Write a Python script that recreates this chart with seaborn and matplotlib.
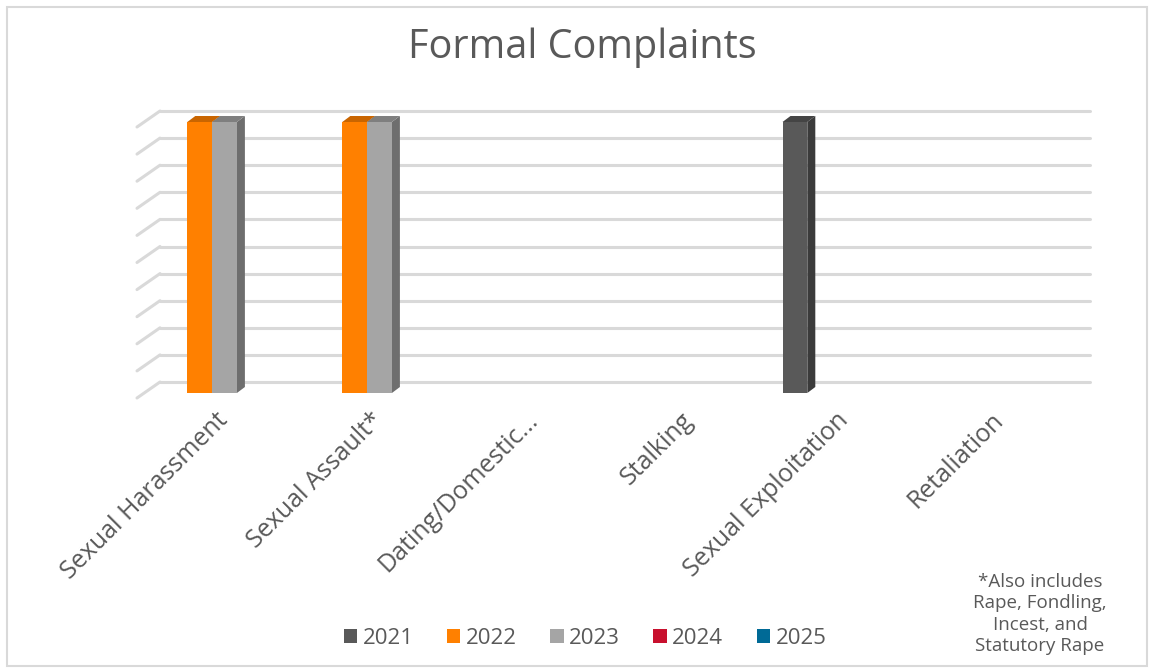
import numpy as np
import pandas as pd
import matplotlib
matplotlib.use("Agg")
import matplotlib.pyplot as plt
from matplotlib.patches import Polygon, Rectangle
from matplotlib.transforms import offset_copy
import seaborn as sns

sns.set_theme(style="white")
plt.rcParams['font.family'] = ['Open Sans', 'DejaVu Sans']

# data
categories = ["Sexual Harassment", "Sexual Assault*", "Dating/Domestic...",
              "Stalking", "Sexual Exploitation", "Retaliation"]
years = ["2021", "2022", "2023", "2024", "2025"]
v2021 = [0, 0, 0, 0, 1, 0]
v2022 = [1, 1, 0, 0, 0, 0]
v2023 = [1, 1, 0, 0, 0, 0]
v2024 = [0, 0, 0, 0, 0, 0]
v2025 = [0, 0, 0, 0, 0, 0]
gridvals = np.arange(0, 1.01, 0.1)

colors = ["#595959", "#FF8000", "#A5A5A5", "#C8102E", "#006A96"]
side_cols = ["#3b3b3b", "#b35a00", "#6e6e6e", "#8c0b20", "#004a69"]
top_cols = ["#444444", "#c96500", "#7f7f7f", "#a00d25", "#00557a"]

df = pd.DataFrame({
    "category": categories * 5,
    "year": sum([[y] * 6 for y in years], []),
    "value": v2021 + v2022 + v2023 + v2024 + v2025,
})

text_col = "#595959"
grid_col = "#d9d9d9"

fig = plt.figure(figsize=(11.54, 6.72), dpi=100)
W, H = 1154, 672
ax = fig.add_axes([147 / W, 1 - 393 / H, (1077 - 147) / W, (393 - 122) / H])

sns.barplot(data=df, x="category", y="value", hue="year", palette=colors,
            saturation=1, width=0.8, ax=ax, legend=False, zorder=3,
            linewidth=0, errorbar=None)

ax.set_xlim(-0.5, 5.5)
ax.set_ylim(0, 1)
ax.set_xlabel("")
ax.set_ylabel("")
ax.set_yticks([])
for s in ax.spines.values():
    s.set_visible(False)
ax.patch.set_alpha(0)

# back wall gridlines + left wall diagonals
wall = offset_copy(ax.transData, fig, x=13, y=11, units="dots")
front = offset_copy(ax.transData, fig, x=-10, y=-5, units="dots")
for v in gridvals:
    ax.plot([-0.5, 5.5], [v, v], color=grid_col, lw=2.2, transform=wall,
            clip_on=False, zorder=1, solid_capstyle="round")
    p0 = wall.transform((-0.5, v))
    p1 = front.transform((-0.5, v))
    ax.add_line(plt.Line2D([p0[0], p1[0]], [p0[1], p1[1]], color=grid_col,
                           lw=2.2, transform=None, zorder=1, clip_on=False,
                           solid_capstyle="round"))

# depth faces of bars
fig.canvas.draw()
dx, dy = 8, 6
bars = sorted([p for p in ax.patches if p.get_height() > 0],
              key=lambda p: p.get_x())
for p in bars:
    fc = matplotlib.colors.to_hex(p.get_facecolor())
    idx = [c.lower() for c in colors].index(fc.lower())
    x0, x1 = p.get_x(), p.get_x() + p.get_width()
    h = p.get_height()
    (a0, b0) = ax.transData.transform((x0, 0))
    (a1, b1) = ax.transData.transform((x1, h))
    side = Polygon([(a1, b0), (a1, b1), (a1 + dx, b1 + dy), (a1 + dx, b0 + dy)],
                   closed=True, facecolor=side_cols[idx], edgecolor="none",
                   transform=None, zorder=2, clip_on=False)
    top = Polygon([(a0, b1), (a1, b1), (a1 + dx, b1 + dy), (a0 + dx, b1 + dy)],
                  closed=True, facecolor=top_cols[idx], edgecolor="none",
                  transform=None, zorder=2, clip_on=False)
    ax.add_patch(side)
    ax.add_patch(top)

ax.tick_params(axis="x", length=0, pad=17, labelsize=18, labelcolor=text_col)
for lab in ax.get_xticklabels():
    lab.set_rotation(45)
    lab.set_ha("right")
    lab.set_va("center")
    lab.set_rotation_mode("anchor")

fig.text(582 / W, 1 - 48 / H, "Formal Complaints", ha="center", va="center",
         fontsize=28.5, color=text_col)

handles = [Rectangle((0, 0), 1, 1, facecolor=c, edgecolor="none") for c in colors]
fig.legend(handles, years, loc="center", bbox_to_anchor=(585 / W, 1 - 638 / H),
           ncol=5, frameon=False, fontsize=16, labelcolor=text_col,
           handlelength=0.6, handleheight=0.6, handletextpad=0.25,
           columnspacing=1.5)

fig.text(1040 / W, 1 - 614 / H,
         "*Also includes\nRape, Fondling,\nIncest, and\nStatutory Rape",
         ha="center", va="center", fontsize=13.5, color=text_col,
         linespacing=1.25)

fig.patches.append(Rectangle((6.5 / W, 6.5 / H), (1147 - 6.5) / W,
                             (665.5 - 6.5) / H, transform=fig.transFigure,
                             facecolor="none", edgecolor=grid_col, lw=1.5))

fig.savefig("out.png", dpi=100)
